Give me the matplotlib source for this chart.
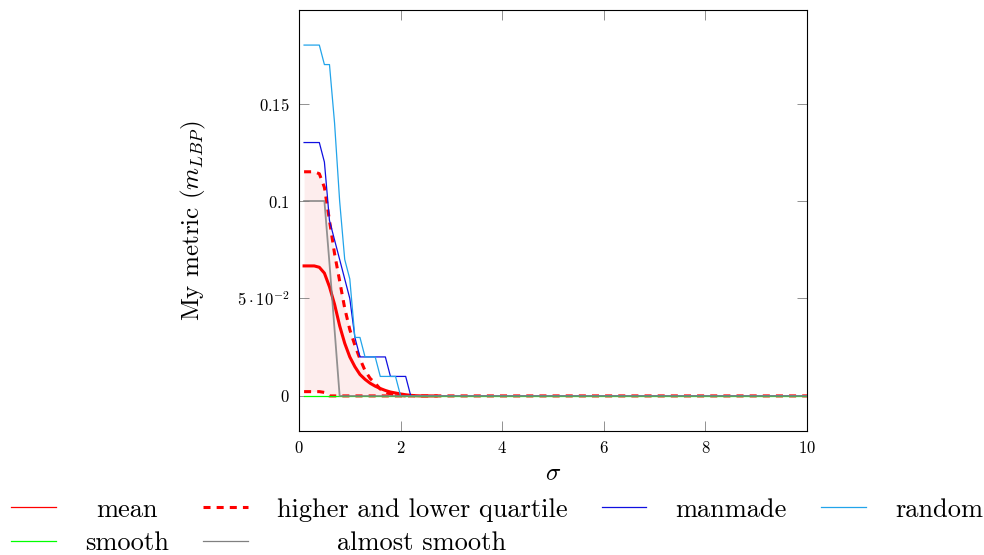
import matplotlib
matplotlib.use('Agg')
import matplotlib.pyplot as plt
import matplotlib.transforms as mtransforms
from matplotlib.lines import Line2D

plt.rcParams['font.family'] = 'serif'
plt.rcParams['font.serif'] = ['cmr10', 'DejaVu Serif']
plt.rcParams['mathtext.fontset'] = 'cm'
plt.rcParams['axes.formatter.use_mathtext'] = True

# sigma values (curves are all zero from 2.4 up to 10)
sigma = [0.1, 0.2, 0.3, 0.4, 0.5, 0.6, 0.7, 0.8, 0.9, 1.0, 1.1, 1.2, 1.3,
         1.4, 1.5, 1.6, 1.7, 1.8, 1.9, 2.0, 2.1, 2.2, 2.3, 2.4, 10.0]

# the mean curve stops a little after it reaches zero
sigma_mean = [0.1, 0.2, 0.3, 0.4, 0.5, 0.6, 0.7, 0.8, 0.9, 1.0, 1.1, 1.2,
              1.3, 1.4, 1.5, 1.6, 1.7, 1.8, 1.9, 2.0, 2.1, 2.2, 2.3, 2.4, 2.7]
mean = [0.0667, 0.0667, 0.0667, 0.066, 0.063, 0.056, 0.047, 0.036, 0.027,
        0.020, 0.015, 0.011, 0.0085, 0.0065, 0.005, 0.0038, 0.0028, 0.002,
        0.0015, 0.001, 0.0006, 0.0003, 0.0001, 0.0, 0.0]
upper_q = [0.115, 0.115, 0.115, 0.114, 0.107, 0.090, 0.073, 0.059, 0.045,
           0.034, 0.026, 0.019, 0.013, 0.009, 0.0065, 0.0035, 0.002, 0.001,
           0.0005, 0.0002, 0.0, 0.0, 0.0, 0.0, 0.0]
lower_q = [0.0022, 0.0022, 0.0022, 0.0022, 0.0018, 0.0, 0.0, 0.0, 0.0, 0.0,
           0.0, 0.0, 0.0, 0.0, 0.0, 0.0, 0.0, 0.0, 0.0, 0.0, 0.0, 0.0, 0.0,
           0.0, 0.0]
manmade = [0.13, 0.13, 0.13, 0.13, 0.12, 0.09, 0.08, 0.07, 0.06, 0.05, 0.03,
           0.02, 0.02, 0.02, 0.02, 0.02, 0.02, 0.01, 0.01, 0.01, 0.01, 0.0,
           0.0, 0.0, 0.0]
random_ = [0.18, 0.18, 0.18, 0.18, 0.17, 0.17, 0.14, 0.10, 0.07, 0.06, 0.03,
           0.03, 0.02, 0.02, 0.02, 0.01, 0.01, 0.01, 0.01, 0.0, 0.0, 0.0, 0.0,
           0.0, 0.0]
smooth = [0.0] * len(sigma)
almost_smooth = [0.1, 0.1, 0.1, 0.1, 0.1, 0.068, 0.034, 0.0, 0.0, 0.0, 0.0,
                 0.0, 0.0, 0.0, 0.0, 0.0, 0.0, 0.0, 0.0, 0.0, 0.0, 0.0, 0.0,
                 0.0, 0.0]

yticks = [0, 0.05, 0.1, 0.15]
ytick_labels = ['$0$', r'$5\cdot10^{-2}$', '$0.1$', '$0.15$']
xticks = [0, 2, 4, 6, 8, 10]

c_mean = '#ff0000'
c_man = '#1010e0'
c_rand = '#22a4ea'
c_smooth = '#00ff00'
c_almost = '#808080'

fig = plt.figure(figsize=(9.84, 5.55), dpi=100)
ax = fig.add_axes([299 / 984, 1 - 431 / 555, 508 / 984, 421 / 555])

ax.fill_between(sigma, lower_q, upper_q, color='#fdeded', lw=0, zorder=1)
dash = (0, (2.3, 2.0))
# upper quartile drawn until it meets the lower one, so the dashes stay clean
n_up = upper_q.index(0.0) + 1
ax.plot(sigma[:n_up], upper_q[:n_up], color=c_mean, lw=2.2, linestyle=dash,
        zorder=2)
ax.plot(sigma, lower_q, color=c_mean, lw=2.2, linestyle=dash, zorder=2)
ax.plot(sigma_mean, mean, color=c_mean, lw=2.2, zorder=4)
ax.plot(sigma, manmade, color=c_man, lw=0.9, zorder=5)
ax.plot(sigma, random_, color=c_rand, lw=0.9, zorder=5)
ax.plot(sigma, smooth, color=c_smooth, lw=0.9, zorder=6)
ax.plot(sigma, almost_smooth, color=c_almost, lw=1.3, alpha=0.85, zorder=7)

ax.set_xlim(0, 10)
ax.set_ylim(-0.018, 0.198)
ax.set_xticks(xticks)
ax.set_xticklabels([f'${t}$' for t in xticks])
ax.set_yticks(yticks)
ax.set_yticklabels(ytick_labels)
ax.tick_params(direction='in', top=True, right=True, length=7.5, width=0.5,
               color='#666666', labelsize=12, pad=6.5)
for s in ax.spines.values():
    s.set_linewidth(0.8)

ax.set_xlabel(r'$\sigma$', fontsize=18, labelpad=5)
ax.set_ylabel(r'My metric ($m_{LBP}$)', fontsize=18, labelpad=21)

# legend, column-major order so that rows read like the original
handles = [
    Line2D([], [], color=c_mean, lw=0.9),
    Line2D([], [], color=c_smooth, lw=0.9),
    Line2D([], [], color=c_mean, lw=2.2, linestyle=dash),
    Line2D([], [], color=c_almost, lw=0.9),
    Line2D([], [], color=c_man, lw=0.9),
    Line2D([], [], color=c_rand, lw=0.9),
]
labels = ['mean', 'smooth', 'higher and lower quartile', 'almost smooth',
          'manmade', 'random']
leg = fig.legend(handles, labels, ncol=4, loc='center',
                 bbox_to_anchor=(0.505, 0.0515), frameon=False, fontsize=19,
                 handlelength=1.7, handletextpad=1.1, columnspacing=1.3,
                 labelspacing=0.36, borderpad=0)

# centre the legend texts inside their column, like pgfplots does
fig.canvas.draw()
r = fig.canvas.get_renderer()
texts = leg.get_texts()
cols = [[0, 1], [2, 3], [4], [5]]
for col in cols:
    widths = [texts[i].get_window_extent(r).width for i in col]
    wmax = max(widths)
    for i, w in zip(col, widths):
        dx = (wmax - w) / 2
        if dx > 0:
            t = texts[i]
            t.set_transform(t.get_transform() +
                            mtransforms.Affine2D().translate(dx, 0))

fig.savefig('out.png', dpi=100)
